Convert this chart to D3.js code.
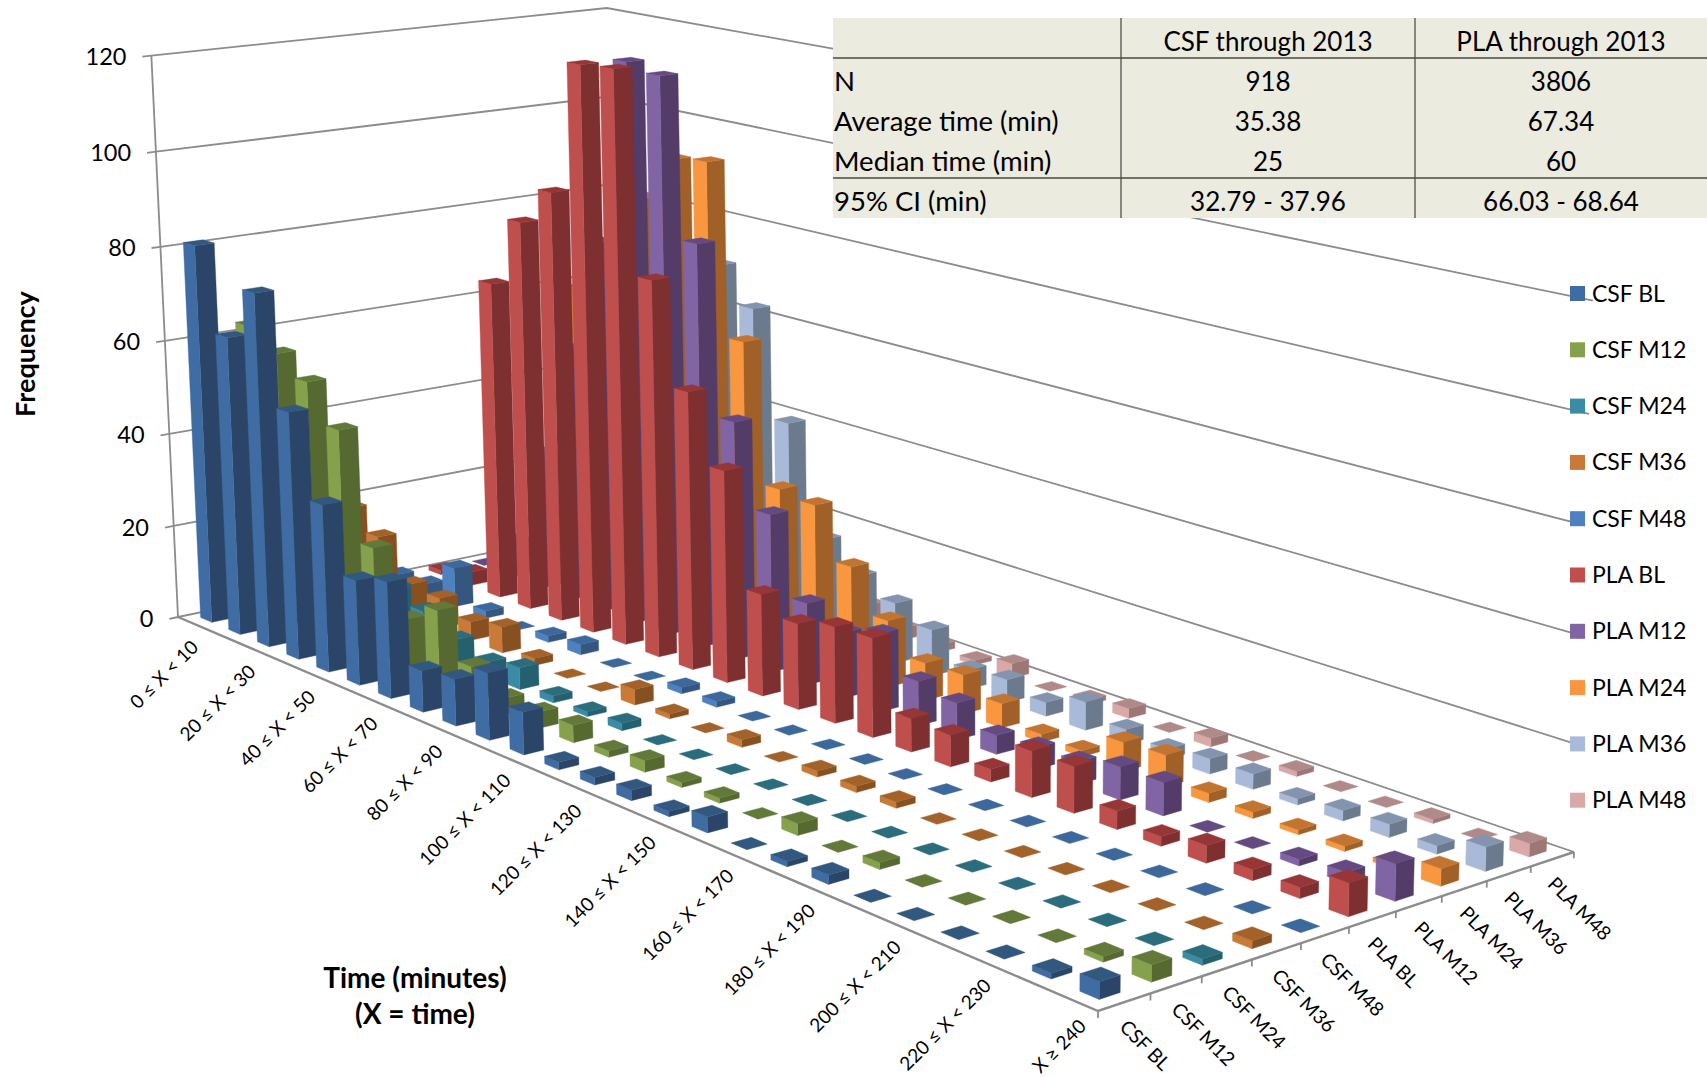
<!DOCTYPE html>
<html>
<head>
<meta charset="utf-8">
<title>Time distribution by visit</title>
<script src="https://cdn.jsdelivr.net/npm/d3@7/dist/d3.min.js"></script>
<style>
  html, body { margin: 0; padding: 0; background: #fff; }
  svg { display: block; }
  text { font-family: Lato, "Noto Sans", sans-serif; fill: #000; }
</style>
</head>
<body>
<svg id="chart" width="1707" height="1077"></svg>
<script>
// Time bins along the depth-running category axis
const timeBins = ["0 ≤ X < 10","10 ≤ X < 20","20 ≤ X < 30","30 ≤ X < 40","40 ≤ X < 50","50 ≤ X < 60",
  "60 ≤ X < 70","70 ≤ X < 80","80 ≤ X < 90","90 ≤ X < 100","100 ≤ X < 110","110 ≤ X < 120",
  "120 ≤ X < 130","130 ≤ X < 140","140 ≤ X < 150","150 ≤ X < 160","160 ≤ X < 170","170 ≤ X < 180",
  "180 ≤ X < 190","190 ≤ X < 200","200 ≤ X < 210","210 ≤ X < 220","220 ≤ X < 230","230 ≤ X < 240","X ≥ 240"];
const seriesNames = ["CSF BL","CSF M12","CSF M24","CSF M36","CSF M48","PLA BL","PLA M12","PLA M24","PLA M36","PLA M48"];

// Frequency per time bin, one list per series
const csfBL  = [81,63.5,74.7,52,35,21.8,24,8.5,9.5,13.5,8.5,1.5,1.5,2,1,3,0,1,1.7,0,0,0,0,1,3];
const csfM12 = [62.5,58.5,54.5,46.5,24,11.5,16,7,3.3,3.3,3.5,1.3,2.3,1,1,0,2.3,0,1.3,0,0,0,0,1,3];
const csfM24 = [14,20,16,11,8.5,5,3,4.5,1.4,1,1.5,0,0,0,0,0,0,0,0,0,0,0,0,0,1.1];
const csfM36 = [19,15,7,6.5,4,5.5,1.5,0,0,3.2,1,0,1.5,0,1.2,1.2,1.2,0,0,0,0,0,0,0,1.4];
const csfM48 = [2,2.5,8.5,1.6,0,1.4,2.2,0,0,1.3,1.2,0,0,0,0,0,0,0,0,0,0,0,0,0,0];
const plaBL  = [1,3,69,84,92,120,120.5,79,58,44,21,17.6,19.6,20,6.7,6.3,2.5,9,9,3.5,1.8,3.3,2,2,6.1];
const plaM12 = [0,8,30,55,80,119.5,118,85,50,33,17,13.5,16,9,7.4,3.8,4.3,4.4,6.4,6.4,0,0,1.2,2,6.8];
const plaM24 = [2,10,65,75,88,98,99,63,34,33,22.5,13.8,7.7,8,4.9,1.6,1.2,5.8,6.2,1.8,1.2,0.9,1,0.8,3.2];
const plaM36 = [1,5,25,45,60,74,66.5,44,21.3,16,12.7,9.7,4,4.7,2.8,5.7,3,2,3,3,1.2,2,2.5,1.6,4.5];
const plaM48 = [0,2,6,10,15,15,12,8,5,2.5,1.5,1,3,0,1,2,0,1.7,0,1,0,0,0.8,0,2.5];
const seriesValues = [csfBL,csfM12,csfM24,csfM36,csfM48,plaBL,plaM12,plaM24,plaM36,plaM48];

// Face shades per series: light (front), dark (side), mid (top)
const faceLight = ["#3f6ca3","#86a14c","#3a8ca5","#c87a36","#4d81bf","#be4f4c","#8164a3","#f8973f","#a9bad8","#d9a8a7"];
const faceDark  = ["#2a4567","#566930","#25606f","#875020","#34567f","#7e2f2f","#533d68","#a06027","#6c7a8e","#9c7776"];
const faceTop   = ["#325880","#62793a","#2c6d7d","#a2622a","#3c689c","#963637","#654a82","#c27431","#8494ae","#b08a89"];

// Table contents
const tableHeader = ["", "CSF through 2013", "PLA through 2013"];
const tableRows = [
  ["N","918","3806"],
  ["Average time (min)","35.38","67.34"],
  ["Median time (min)","25","60"],
  ["95% CI (min)","32.79 - 37.96","66.03 - 68.64"]
];

const svg = d3.select("#chart");

// ---- Perspective projection of the chart box ----
// Screen anchors of the floor corners and of three top corners at the axis maximum.
const floorCorners = [[178,617],[1098,1011],[1574,852],[618,526]];
const topCorners = [{u:0,v:0,p:[152,56]},{u:0,v:1,p:[606,7]},{u:1,v:1,p:[1597,187]}];

function gauss(M, r) {
  const n = r.length, a = M.map((row, i) => [...row, r[i]]);
  for (let i = 0; i < n; i++) {
    let m = i;
    for (let k = i + 1; k < n; k++) if (Math.abs(a[k][i]) > Math.abs(a[m][i])) m = k;
    [a[i], a[m]] = [a[m], a[i]];
    for (let k = i + 1; k < n; k++) {
      const f = a[k][i] / a[i][i];
      for (let j = i; j <= n; j++) a[k][j] -= f * a[i][j];
    }
  }
  const x = new Array(n);
  for (let i = n - 1; i >= 0; i--) {
    x[i] = a[i][n];
    for (let j = i + 1; j < n; j++) x[i] -= a[i][j] * x[j];
    x[i] /= a[i][i];
  }
  return x;
}

// Floor homography from the unit square
const hom = (() => {
  const uv = [[0,0],[1,0],[1,1],[0,1]], M = [], r = [];
  floorCorners.forEach(([x,y], i) => {
    const [u,v] = uv[i];
    M.push([u,v,1,0,0,0,-u*x,-v*x]); r.push(x);
    M.push([0,0,0,u,v,1,-u*y,-v*y]); r.push(y);
  });
  return gauss(M, r);
})();
const floorH = (u,v) => [hom[0]*u+hom[1]*v+hom[2], hom[3]*u+hom[4]*v+hom[5], hom[6]*u+hom[7]*v+1];

// Height column, fitted to the top corners by least squares
const heightCol = (() => {
  const rows = [], r = [];
  topCorners.forEach(({u,v,p}) => {
    const b = floorH(u,v);
    rows.push([1,0,-p[0]]); r.push(p[0]*b[2]-b[0]);
    rows.push([0,1,-p[1]]); r.push(p[1]*b[2]-b[1]);
  });
  const N = [0,1,2].map(i => [0,1,2].map(j => d3.sum(rows, q => q[i]*q[j])));
  const t = [0,1,2].map(i => d3.sum(rows, (q,k) => q[i]*r[k]));
  return gauss(N, t);
})();

function project(u, v, h) {
  const b = floorH(u,v), w = b[2] + h*heightCol[2];
  return [(b[0] + h*heightCol[0]) / w, (b[1] + h*heightCol[1]) / w];
}

// Scales into the unit box
const uScale = d3.scaleBand().domain(timeBins).range([0,1]).paddingInner(0.6).paddingOuter(0.3);
const vScale = d3.scaleBand().domain(seriesNames).range([0,1]).paddingInner(0.6).paddingOuter(0.3);
const hScale = d3.scaleLinear().domain([0,120]).range([0,1]);

const poly = pts => "M" + pts.map(p => p[0].toFixed(2) + "," + p[1].toFixed(2)).join("L") + "Z";
const wire = pts => "M" + pts.map(p => p[0].toFixed(2) + "," + p[1].toFixed(2)).join("L");

// ---- Walls and gridlines ----
const axisColor = "#8c8c8c";
const yTicks = hScale.ticks(6);
const grid = svg.append("g").attr("fill","none").attr("stroke",axisColor).attr("stroke-width",1.8);
yTicks.forEach(t => {
  const h = hScale(t);
  grid.append("path").attr("d", wire([project(0,-0.018,h), project(0,0,h), project(0,1,h), project(1,1,h)]));
});
grid.append("path").attr("d", wire([project(0,0,1), project(0,0,0)]));
// Floor edges at the front
grid.append("path").attr("stroke-width",2.4).attr("d", wire([project(0,0,0), project(1,0,0), project(1,1,0)]));
d3.range(0, seriesNames.length + 1).forEach(k => {
  const v = k / seriesNames.length;
  grid.append("path").attr("d", wire([project(1,v,0), project(1,v,hScale(-1.2))]));
});

// ---- Bars, painted from the far corner towards the viewer ----
const bars = svg.append("g");
d3.range(seriesNames.length - 1, -1, -1).forEach(s => {
  const v0 = vScale(seriesNames[s]), v1 = v0 + vScale.bandwidth();
  timeBins.forEach((bin, c) => {
    const u0 = uScale(bin), u1 = u0 + uScale.bandwidth();
    const value = seriesValues[s][c], h = hScale(value);
    const g = bars.append("g");
    if (value > 0) {
      g.append("path").attr("fill", faceDark[s]).attr("stroke", faceDark[s]).attr("stroke-width",0.4)
        .attr("d", poly([project(u1,v0,0), project(u1,v1,0), project(u1,v1,h), project(u1,v0,h)]));
      g.append("path").attr("fill", faceLight[s]).attr("stroke", faceLight[s]).attr("stroke-width",0.4)
        .attr("d", poly([project(u0,v0,0), project(u1,v0,0), project(u1,v0,h), project(u0,v0,h)]));
    }
    g.append("path").attr("fill", faceTop[s]).attr("stroke", faceTop[s]).attr("stroke-width",0.4)
      .attr("d", poly([project(u0,v0,h), project(u1,v0,h), project(u1,v1,h), project(u0,v1,h)]));
  });
});

// ---- Axis labels ----
const yLabels = svg.append("g").attr("font-size",23.5).attr("text-anchor","end");
yTicks.forEach(t => {
  const p = project(0,-0.018,hScale(t));
  yLabels.append("text").attr("x", p[0]-16).attr("y", p[1]).attr("dy","0.34em").text(t);
});

const catLabels = svg.append("g").attr("font-size",19).attr("text-anchor","end");
timeBins.forEach((bin, c) => {
  if (c % 2) return;
  const p = project(uScale(bin) + uScale.bandwidth()/2, 0, 0);
  const t = c / (timeBins.length - 1);
  const x = p[0] + 7.6 + 6*t, y = p[1] + 25.5 + 1.5*t;
  catLabels.append("text").attr("transform",`translate(${x},${y}) rotate(-45)`).text(bin);
});

const serLabels = svg.append("g").attr("font-size",19.5);
seriesNames.forEach((name, s) => {
  const p = project(1, vScale(name) + vScale.bandwidth()/2, 0);
  serLabels.append("text").attr("transform",`translate(${p[0]-6},${p[1]+26}) rotate(45)`).text(name);
});

svg.append("text").attr("transform","translate(35,354) rotate(-90)").attr("text-anchor","middle")
  .attr("font-weight",700).attr("font-size",27).text("Frequency");
svg.append("text").attr("x",415).attr("y",988).attr("text-anchor","middle")
  .attr("font-weight",700).attr("font-size",28).text("Time (minutes)");
svg.append("text").attr("x",415).attr("y",1024).attr("text-anchor","middle")
  .attr("font-weight",700).attr("font-size",28).text("(X = time)");

// ---- Legend ----
const legend = svg.append("g");
seriesNames.forEach((name, s) => {
  const y = 286 + s*56.3;
  legend.append("rect").attr("x",1570).attr("y",y).attr("width",15).attr("height",15).attr("fill",faceLight[s]);
  legend.append("text").attr("x",1592).attr("y",y+7.5).attr("dy","0.35em").attr("font-size",23).text(name);
});

// ---- Summary table ----
const tbl = svg.append("g");
const colX = [833,1121,1415,1707], rowY = [18,58,98,138,178,218];
tbl.append("rect").attr("x",colX[0]).attr("y",rowY[0]).attr("width",colX[3]-colX[0]).attr("height",rowY[5]-rowY[0]).attr("fill","#ecebe0");
[[colX[1],rowY[0],colX[1],rowY[5]],[colX[2],rowY[0],colX[2],rowY[5]]].forEach(l =>
  tbl.append("line").attr("x1",l[0]).attr("y1",l[1]).attr("x2",l[2]).attr("y2",l[3]).attr("stroke","#222").attr("stroke-width",1));
[rowY[1],rowY[4]].forEach(y =>
  tbl.append("line").attr("x1",colX[0]).attr("x2",colX[3]).attr("y1",y).attr("y2",y).attr("stroke","#4a4a40").attr("stroke-width",1.6));
const colCentre = [null,(colX[1]+colX[2])/2,(colX[2]+colX[3])/2];
[tableHeader,...tableRows].forEach((row,i) => {
  row.forEach((cell,j) => {
    if (!cell) return;
    tbl.append("text").attr("font-size", j ? 26 : 27.5)
      .attr("x", j ? colCentre[j] : colX[0]+1)
      .attr("y", rowY[i]+23.5).attr("dy","0.35em")
      .attr("text-anchor", j ? "middle" : "start").text(cell);
  });
});
</script>
</body>
</html>
